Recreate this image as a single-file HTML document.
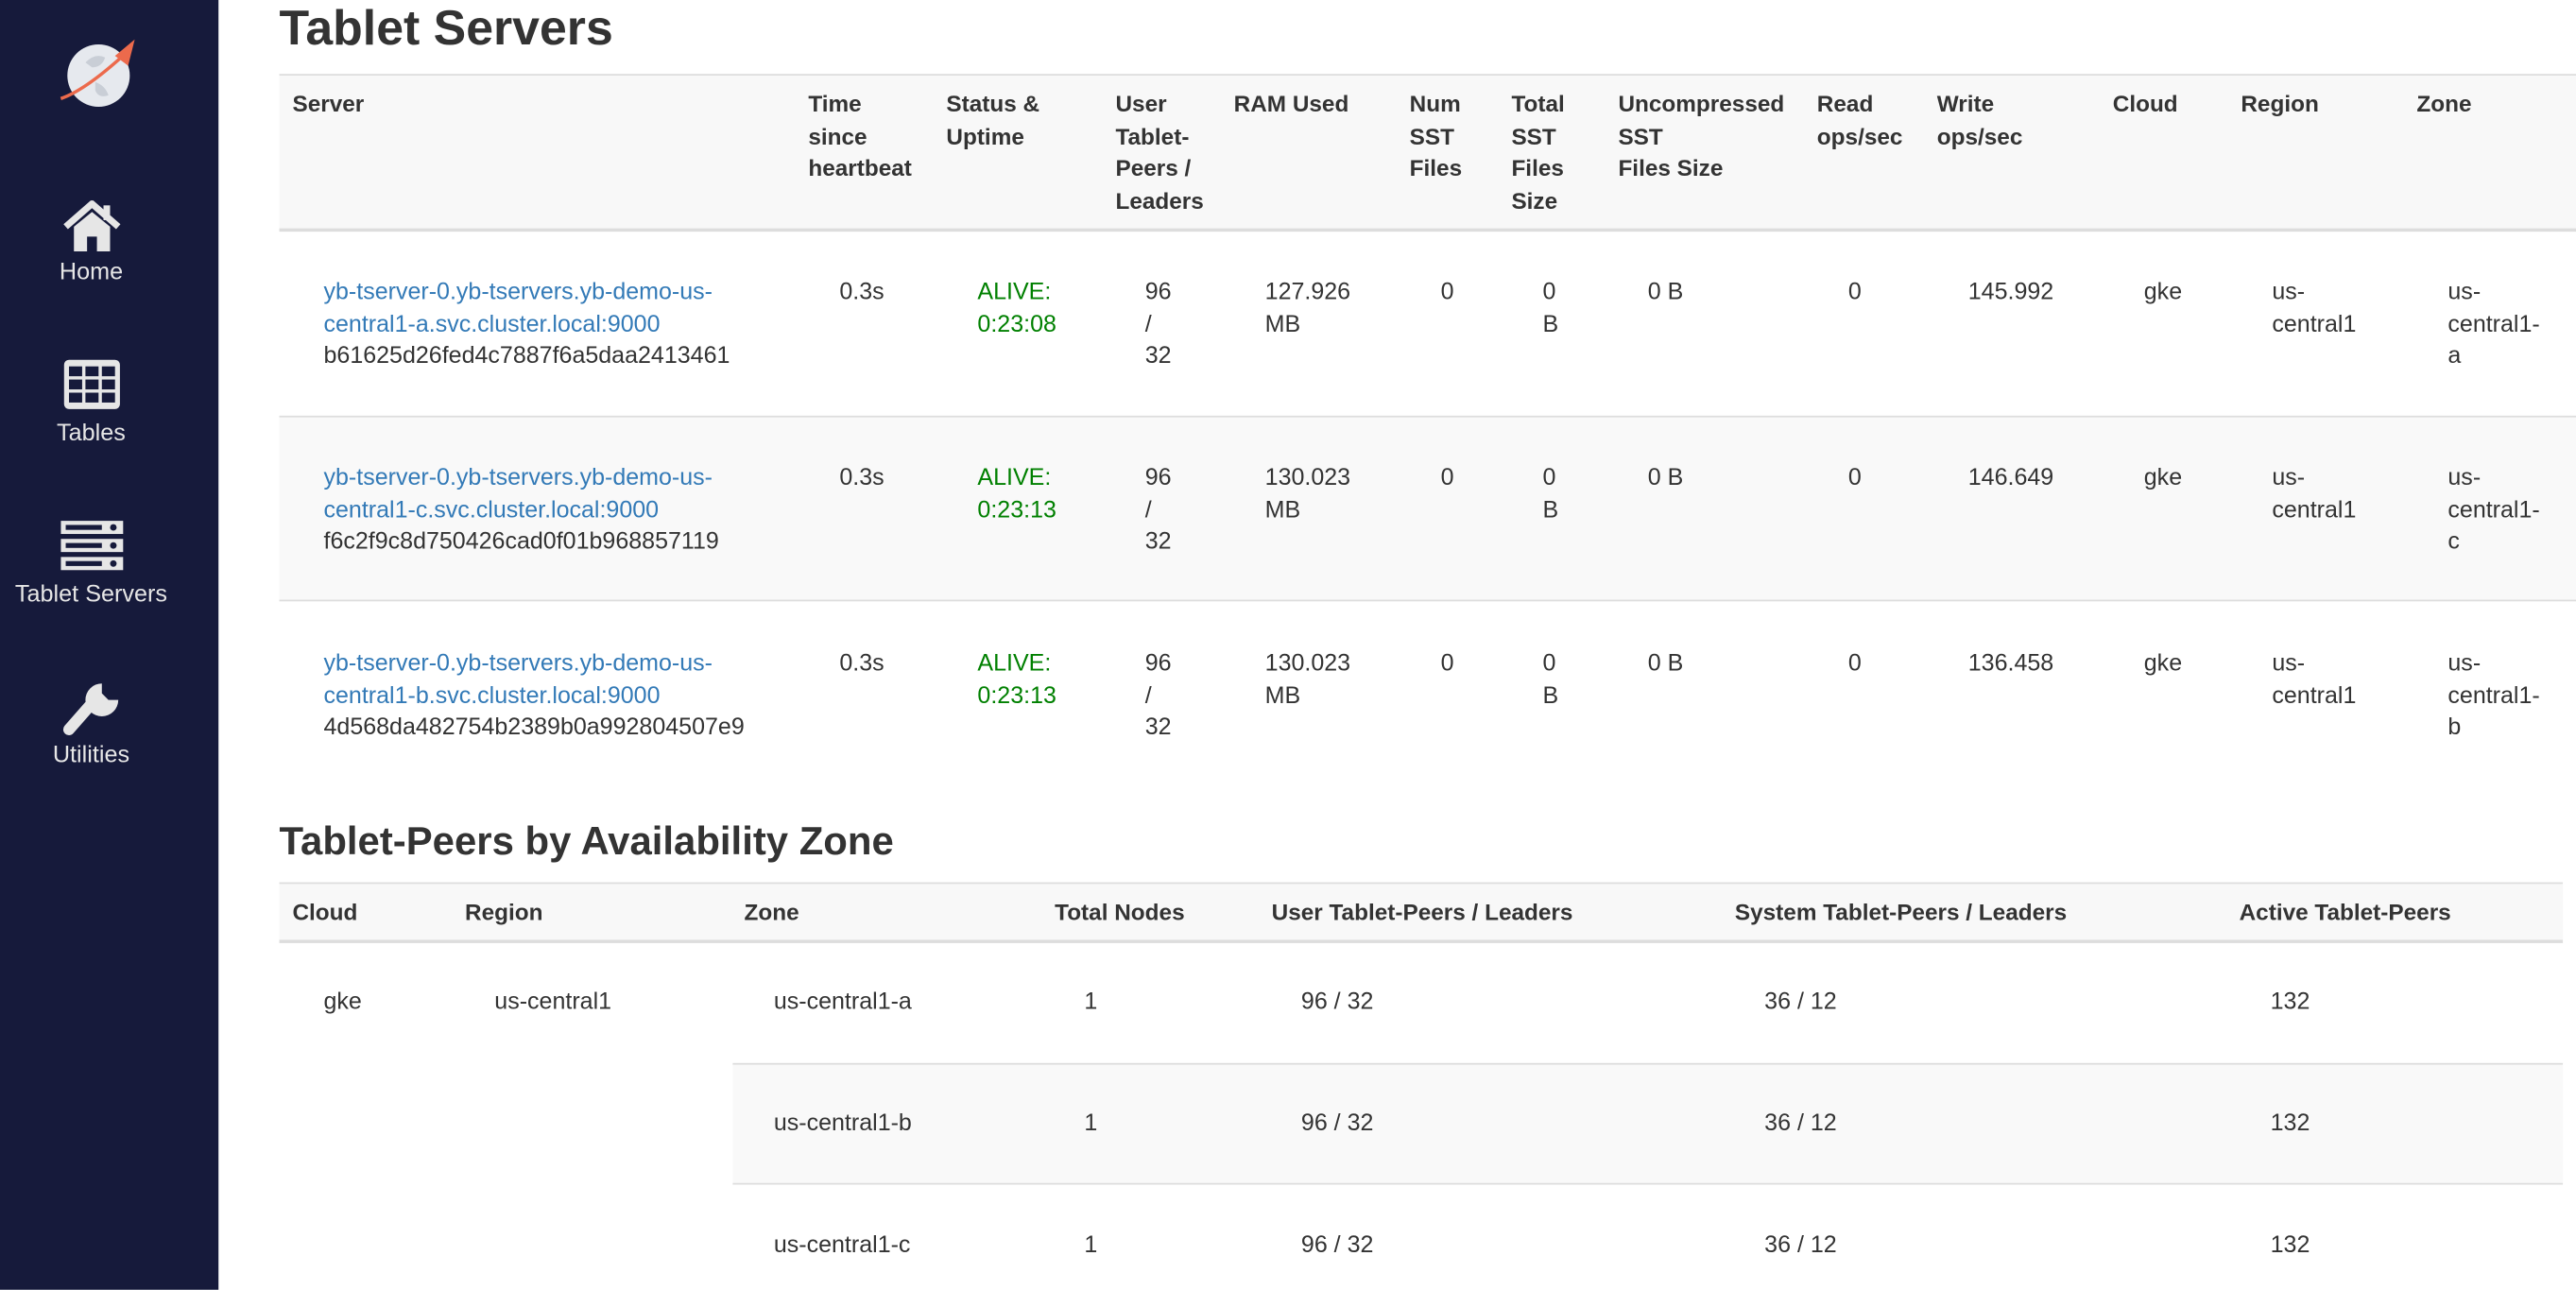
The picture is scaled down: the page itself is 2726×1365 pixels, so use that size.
<!DOCTYPE html>
<html><head><meta charset="utf-8"><style>
html,body{margin:0;padding:0;width:2726px;height:1364px;overflow:hidden;background:#fff}
#w{position:absolute;left:0;top:0;width:1568px;height:785px;transform:scale(1.73852);transform-origin:0 0;font-family:"Liberation Sans",Arial,sans-serif;color:#333;font-size:14.4px;line-height:19.5px}
.t{position:absolute;white-space:nowrap}
.h{font-weight:bold;font-size:14px}
.l{color:#337ab7}
.g{color:#008000}
.bx{position:absolute}
.side{position:absolute;left:0;top:0;width:133px;height:785px;background:#161a3b}
.nl{position:absolute;left:0;width:111px;text-align:center;color:#e6e6e6;font-size:14.5px}
</style></head><body><div id="w">
<div class="side"></div>
<svg class="bx" style="left:32px;top:20px" width="56" height="50" viewBox="0 0 56 50">
<circle cx="28" cy="26" r="19" fill="#e6e9ee"/>
<path d="M20 18 q6 -6 12 -3 q-2 6 -8 6 z M26 30 q6 2 8 8 q-6 2 -8 -3z" fill="#c9ced6"/>
<path d="M5 40 Q20 35 45 12" stroke="#ec6a4c" stroke-width="2" fill="none"/>
<path d="M38 14 L50 4 L46 20 Z" fill="#ec6a4c"/>
</svg>
<svg class="bx" style="left:38px;top:122px" width="36" height="32" viewBox="0 0 36 32">
<path d="M2 16 L18 2 L34 16" stroke="#e6e6e6" stroke-width="4" fill="none"/>
<path d="M7 16 L18 7 L29 16 V31 H21 V22 H15 V31 H7 Z" fill="#e6e6e6"/>
<rect x="25" y="3" width="4" height="9" fill="#e6e6e6"/></svg>
<div class="nl" style="top:157px">Home</div>
<svg class="bx" style="left:38px;top:218px" width="36" height="32" viewBox="0 0 36 32">
<rect x="1" y="1" width="34" height="30" rx="3" fill="#e6e6e6"/>
<g fill="#161a3b"><rect x="4" y="5" width="8" height="6"/><rect x="14" y="5" width="8" height="6"/><rect x="24" y="5" width="8" height="6"/>
<rect x="4" y="13" width="8" height="6"/><rect x="14" y="13" width="8" height="6"/><rect x="24" y="13" width="8" height="6"/>
<rect x="4" y="21" width="8" height="6"/><rect x="14" y="21" width="8" height="6"/><rect x="24" y="21" width="8" height="6"/></g></svg>
<div class="nl" style="top:255px">Tables</div>
<svg class="bx" style="left:37px;top:316px" width="38" height="32" viewBox="0 0 38 32">
<g fill="#e6e6e6"><rect x="0" y="1" width="38" height="8"/><rect x="0" y="12" width="38" height="8"/><rect x="0" y="23" width="38" height="8"/></g>
<g fill="#161a3b"><rect x="3" y="3.5" width="22" height="3"/><rect x="3" y="14.5" width="22" height="3"/><rect x="3" y="25.5" width="22" height="3"/>
<circle cx="32" cy="5" r="2"/><circle cx="32" cy="16" r="2"/><circle cx="32" cy="27" r="2"/></g></svg>
<div class="nl" style="top:353px">Tablet Servers</div>
<svg class="bx" style="left:38px;top:414px" width="36" height="36" viewBox="0 0 36 36">
<path d="M4 30 L18 14" stroke="#e6e6e6" stroke-width="7" stroke-linecap="round"/>
<path d="M24 2 A10 10 0 1 0 34 12 L28 12 L24 8 Z" fill="#e6e6e6"/></svg>
<div class="nl" style="top:451px">Utilities</div>

<div class="t h" style="left:170px;top:0px;font-size:29.8px;line-height:36px">Tablet Servers</div>
<div class="bx" style="left:170px;top:45px;width:1398px;height:96px;background:#f8f8f8;border-top:1px solid #ddd;border-bottom:2px solid #ddd;box-sizing:border-box"></div>
<div class="bx" style="left:170px;top:253px;width:1398px;height:113px;background:#f9f9f9;border-top:1px solid #ddd;border-bottom:1px solid #ddd;box-sizing:border-box"></div>

<div class="t h" style="left:178px;top:54px">Server</div>
<div class="t h" style="left:492px;top:54px">Time<br>since<br>heartbeat</div>
<div class="t h" style="left:576px;top:54px">Status &amp;<br>Uptime</div>
<div class="t h" style="left:679px;top:54px">User<br>Tablet-<br>Peers /<br>Leaders</div>
<div class="t h" style="left:751px;top:54px">RAM Used</div>
<div class="t h" style="left:858px;top:54px">Num<br>SST<br>Files</div>
<div class="t h" style="left:920px;top:54px">Total<br>SST<br>Files<br>Size</div>
<div class="t h" style="left:985px;top:54px">Uncompressed<br>SST<br>Files Size</div>
<div class="t h" style="left:1106px;top:54px">Read<br>ops/sec</div>
<div class="t h" style="left:1179px;top:54px">Write<br>ops/sec</div>
<div class="t h" style="left:1286px;top:54px">Cloud</div>
<div class="t h" style="left:1364px;top:54px">Region</div>
<div class="t h" style="left:1471px;top:54px">Zone</div>

<!-- row1 -->
<div class="t" style="left:197px;top:169px"><span class="l">yb-tserver-0.yb-tservers.yb-demo-us-<br>central1-a.svc.cluster.local:9000</span><br>b61625d26fed4c7887f6a5daa2413461</div>
<div class="t" style="left:511px;top:169px">0.3s</div>
<div class="t g" style="left:595px;top:169px">ALIVE:<br>0:23:08</div>
<div class="t" style="left:697px;top:169px">96<br>/<br>32</div>
<div class="t" style="left:770px;top:169px">127.926<br>MB</div>
<div class="t" style="left:877px;top:169px">0</div>
<div class="t" style="left:939px;top:169px">0<br>B</div>
<div class="t" style="left:1003px;top:169px">0 B</div>
<div class="t" style="left:1125px;top:169px">0</div>
<div class="t" style="left:1198px;top:169px">145.992</div>
<div class="t" style="left:1305px;top:169px">gke</div>
<div class="t" style="left:1383px;top:169px">us-<br>central1</div>
<div class="t" style="left:1490px;top:169px">us-<br>central1-<br>a</div>
<!-- row2 -->
<div class="t" style="left:197px;top:282px"><span class="l">yb-tserver-0.yb-tservers.yb-demo-us-<br>central1-c.svc.cluster.local:9000</span><br>f6c2f9c8d750426cad0f01b968857119</div>
<div class="t" style="left:511px;top:282px">0.3s</div>
<div class="t g" style="left:595px;top:282px">ALIVE:<br>0:23:13</div>
<div class="t" style="left:697px;top:282px">96<br>/<br>32</div>
<div class="t" style="left:770px;top:282px">130.023<br>MB</div>
<div class="t" style="left:877px;top:282px">0</div>
<div class="t" style="left:939px;top:282px">0<br>B</div>
<div class="t" style="left:1003px;top:282px">0 B</div>
<div class="t" style="left:1125px;top:282px">0</div>
<div class="t" style="left:1198px;top:282px">146.649</div>
<div class="t" style="left:1305px;top:282px">gke</div>
<div class="t" style="left:1383px;top:282px">us-<br>central1</div>
<div class="t" style="left:1490px;top:282px">us-<br>central1-<br>c</div>
<!-- row3 -->
<div class="t" style="left:197px;top:395px"><span class="l">yb-tserver-0.yb-tservers.yb-demo-us-<br>central1-b.svc.cluster.local:9000</span><br>4d568da482754b2389b0a992804507e9</div>
<div class="t" style="left:511px;top:395px">0.3s</div>
<div class="t g" style="left:595px;top:395px">ALIVE:<br>0:23:13</div>
<div class="t" style="left:697px;top:395px">96<br>/<br>32</div>
<div class="t" style="left:770px;top:395px">130.023<br>MB</div>
<div class="t" style="left:877px;top:395px">0</div>
<div class="t" style="left:939px;top:395px">0<br>B</div>
<div class="t" style="left:1003px;top:395px">0 B</div>
<div class="t" style="left:1125px;top:395px">0</div>
<div class="t" style="left:1198px;top:395px">136.458</div>
<div class="t" style="left:1305px;top:395px">gke</div>
<div class="t" style="left:1383px;top:395px">us-<br>central1</div>
<div class="t" style="left:1490px;top:395px">us-<br>central1-<br>b</div>

<div class="t h" style="left:170px;top:498px;font-size:24.1px;line-height:30px">Tablet-Peers by Availability Zone</div>
<div class="bx" style="left:170px;top:537px;width:1390px;height:37px;background:#f8f8f8;border-top:1px solid #ddd;border-bottom:2px solid #ddd;box-sizing:border-box"></div>
<div class="t h" style="left:178px;top:546px">Cloud</div>
<div class="t h" style="left:283px;top:546px">Region</div>
<div class="t h" style="left:453px;top:546px">Zone</div>
<div class="t h" style="left:642px;top:546px">Total Nodes</div>
<div class="t h" style="left:774px;top:546px">User Tablet-Peers / Leaders</div>
<div class="t h" style="left:1056px;top:546px">System Tablet-Peers / Leaders</div>
<div class="t h" style="left:1363px;top:546px">Active Tablet-Peers</div>
<div class="bx" style="left:446px;top:647px;width:1114px;height:74px;background:#f9f9f9;border-top:1px solid #ddd;border-bottom:1px solid #ddd;box-sizing:border-box"></div>
<div class="t" style="left:197px;top:601px">gke</div>
<div class="t" style="left:301px;top:601px">us-central1</div>
<div class="t" style="left:471px;top:601px">us-central1-a</div>
<div class="t" style="left:660px;top:601px">1</div>
<div class="t" style="left:792px;top:601px">96 / 32</div>
<div class="t" style="left:1074px;top:601px">36 / 12</div>
<div class="t" style="left:1382px;top:601px">132</div>
<div class="t" style="left:471px;top:675px">us-central1-b</div>
<div class="t" style="left:660px;top:675px">1</div>
<div class="t" style="left:792px;top:675px">96 / 32</div>
<div class="t" style="left:1074px;top:675px">36 / 12</div>
<div class="t" style="left:1382px;top:675px">132</div>
<div class="t" style="left:471px;top:749px">us-central1-c</div>
<div class="t" style="left:660px;top:749px">1</div>
<div class="t" style="left:792px;top:749px">96 / 32</div>
<div class="t" style="left:1074px;top:749px">36 / 12</div>
<div class="t" style="left:1382px;top:749px">132</div>
</div></body></html>
